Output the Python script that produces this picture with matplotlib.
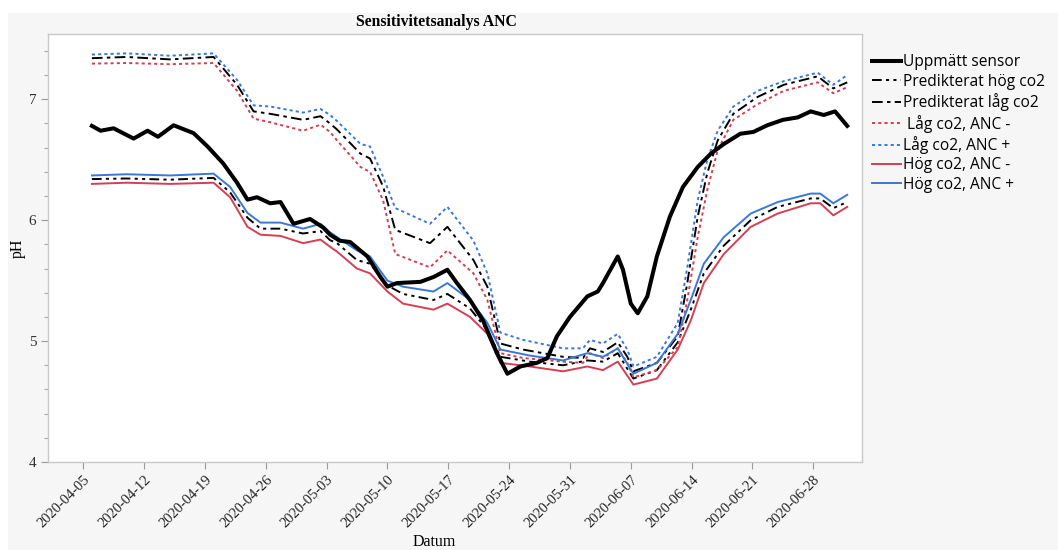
import pandas as pd
import matplotlib
matplotlib.use("Agg")
import matplotlib.pyplot as plt
from matplotlib.ticker import MultipleLocator
from matplotlib.patches import Rectangle

# day offsets are counted from 2020-04-05
start = pd.Timestamp("2020-04-05")

# measured pH (sensor)
sensor_day = [1.0, 2.0, 3.5, 5.8, 7.4, 8.6, 10.4, 12.7, 14.3, 16.1, 17.7, 18.9,
              20.0, 21.5, 22.7, 24.2, 26.1, 27.6, 28.4, 29.5, 30.7, 32.7, 34.2,
              35.0, 36.1, 38.8, 40.3, 41.9, 43.0, 44.5, 46.0, 47.6, 48.8, 50.3,
              52.2, 53.4, 54.5, 56.0, 58.0, 59.2, 59.8, 61.5, 62.1, 63.0, 63.8,
              64.9, 66.0, 67.5, 69.0, 70.7, 72.2, 73.7, 75.6, 77.1, 78.7, 80.5,
              82.2, 83.7, 85.2, 86.5, 87.9]
sensor_ph = [6.78, 6.74, 6.76, 6.675, 6.74, 6.69, 6.785, 6.72, 6.61, 6.47, 6.31, 6.17,
             6.19, 6.14, 6.15, 5.97, 6.01, 5.94, 5.88, 5.83, 5.82, 5.70, 5.53,
             5.45, 5.48, 5.49, 5.53, 5.59, 5.48, 5.34, 5.17, 4.90, 4.73, 4.79,
             4.82, 4.86, 5.04, 5.20, 5.37, 5.41, 5.48, 5.70, 5.59, 5.31, 5.23,
             5.37, 5.70, 6.03, 6.275, 6.44, 6.55, 6.63, 6.715, 6.73, 6.785, 6.83,
             6.85, 6.90, 6.87, 6.90, 6.78]

# low co2 scenario
lag_day = [1.0, 5.0, 10.0, 15.0, 17.7, 19.6, 21.5, 25.3, 27.3, 28.4, 29.2, 31.9,
           33.0, 34.5, 35.9, 39.9, 41.9, 44.9, 46.5, 48.0, 50.6, 55.2, 57.5,
           58.3, 59.8, 61.5, 62.6, 63.3, 66.0, 68.4, 69.5, 70.7, 71.8, 73.0,
           74.8, 77.6, 80.6, 84.5, 86.3, 87.9]
lag_anc_plus = [7.37, 7.38, 7.36, 7.38, 7.16, 6.95, 6.94, 6.89, 6.92, 6.87, 6.82, 6.63,
                6.61, 6.36, 6.10, 5.97, 6.11, 5.83, 5.56, 5.07, 5.01, 4.94, 4.94,
                5.01, 4.98, 5.06, 4.93, 4.79, 4.87, 5.15, 5.61, 6.165, 6.50, 6.74,
                6.94, 7.07, 7.15, 7.22, 7.12, 7.20]
lag_pred = [7.34, 7.35, 7.33, 7.35, 7.12, 6.90, 6.88, 6.83, 6.86, 6.80, 6.75, 6.55,
            6.51, 6.28, 5.92, 5.81, 5.945, 5.67, 5.45, 4.98, 4.93, 4.87, 4.86,
            4.94, 4.91, 4.99, 4.87, 4.75, 4.82, 5.04, 5.48, 6.03, 6.39, 6.66,
            6.88, 7.02, 7.12, 7.19, 7.09, 7.14]
lag_anc_minus = [7.295, 7.30, 7.29, 7.30, 7.07, 6.84, 6.81, 6.74, 6.79, 6.73, 6.66, 6.44,
                 6.40, 6.165, 5.72, 5.61, 5.75, 5.56, 5.34, 4.90, 4.86, 4.83, 4.82,
                 4.90, 4.86, 4.94, 4.82, 4.70, 4.76, 4.95, 5.34, 5.86, 6.25, 6.58,
                 6.83, 6.96, 7.07, 7.14, 7.05, 7.10]

# high co2 scenario
hog_day = [1.0, 5.0, 10.0, 15.0, 16.9, 18.9, 20.4, 22.7, 25.3, 27.3, 28.4, 29.2,
           31.5, 33.0, 35.0, 36.8, 40.3, 41.9, 44.5, 46.5, 48.0, 51.4, 55.2,
           58.0, 59.8, 61.5, 63.3, 66.0, 68.4, 69.9, 71.4, 73.7, 76.8, 79.9,
           83.7, 84.8, 86.3, 87.9]
hog_anc_plus = [6.37, 6.38, 6.37, 6.385, 6.275, 6.06, 5.98, 5.98, 5.93, 5.97, 5.90, 5.86,
                5.75, 5.70, 5.50, 5.45, 5.41, 5.48, 5.34, 5.15, 4.93, 4.88, 4.84,
                4.90, 4.87, 4.94, 4.73, 4.82, 5.06, 5.34, 5.64, 5.86, 6.055, 6.15,
                6.22, 6.22, 6.14, 6.21]
hog_pred = [6.34, 6.345, 6.335, 6.35, 6.23, 6.02, 5.93, 5.93, 5.89, 5.91, 5.835, 5.81,
            5.67, 5.64, 5.46, 5.39, 5.34, 5.39, 5.27, 5.09, 4.87, 4.83, 4.80,
            4.84, 4.83, 4.90, 4.69, 4.76, 4.99, 5.26, 5.56, 5.79, 6.00, 6.11,
            6.18, 6.18, 6.10, 6.15]
hog_anc_minus = [6.30, 6.31, 6.30, 6.31, 6.19, 5.945, 5.88, 5.87, 5.81, 5.84, 5.78, 5.74,
                 5.60, 5.56, 5.41, 5.31, 5.26, 5.31, 5.20, 5.06, 4.82, 4.79, 4.75,
                 4.79, 4.76, 4.83, 4.64, 4.69, 4.93, 5.17, 5.48, 5.72, 5.945, 6.055,
                 6.14, 6.14, 6.04, 6.11]


def to_dates(days):
    return start + pd.to_timedelta(days, unit="D")


RED = "#d43f52"
BLUE = "#3a78d8"
serif = "Liberation Serif"

fig = plt.figure(figsize=(10.58, 5.5), dpi=100)
fig.patch.set_facecolor("white")
fig.patches.append(Rectangle((8 / 1058, 0), 1, 537 / 550, transform=fig.transFigure,
                             facecolor="#f6f6f6", edgecolor="none", zorder=-10))

ax = fig.add_axes([48 / 1058, 88 / 550, 814 / 1058, 428 / 550])
ax.set_facecolor("white")

ax.plot(to_dates(sensor_day), sensor_ph, color="black", lw=2.9,
        label="Uppmätt sensor", zorder=5)
ax.plot(to_dates(hog_day), hog_pred, color="black", lw=1.4,
        dashes=(5, 2.2, 1.6, 2.2, 1.6, 2.2), label="Predikterat hög co2")
ax.plot(to_dates(lag_day), lag_pred, color="black", lw=1.4,
        dashes=(5.5, 2.2, 1.8, 2.2), label="Predikterat låg co2")
ax.plot(to_dates(lag_day), lag_anc_minus, color=RED, lw=1.4,
        dashes=(1.6, 1.6), label=" Låg co2, ANC -")
ax.plot(to_dates(lag_day), lag_anc_plus, color=BLUE, lw=1.4,
        dashes=(1.6, 1.6), label="Låg co2, ANC +")
ax.plot(to_dates(hog_day), hog_anc_minus, color=RED, lw=1.4,
        label="Hög co2, ANC -")
ax.plot(to_dates(hog_day), hog_anc_plus, color=BLUE, lw=1.4,
        label="Hög co2, ANC +")

# axes ranges and ticks
ax.set_xlim(to_dates([-4.05])[0], to_dates([89.6])[0])
ax.set_ylim(4, 7.54)
ax.yaxis.set_major_locator(MultipleLocator(1))
ax.yaxis.set_minor_locator(MultipleLocator(0.2))
week_ticks = pd.date_range("2020-04-05", "2020-06-28", freq="7D")
ax.set_xticks(week_ticks)
ax.set_xticklabels([d.strftime("%Y-%m-%d") for d in week_ticks],
                   rotation=45, ha="right", rotation_mode="anchor",
                   fontfamily=serif, fontsize=10.5, color="#222222")
for lbl in ax.get_yticklabels():
    lbl.set_fontfamily(serif)
ax.tick_params(axis="y", labelsize=11, colors="#999999", labelcolor="#333333",
               length=5, width=0.8)
ax.tick_params(axis="y", which="minor", length=3, colors="#aaaaaa", width=0.8)
ax.tick_params(axis="x", colors="#999999", labelcolor="#222222", length=5,
               width=0.8, pad=3)
for s in ax.spines.values():
    s.set_color("#c8c8c8")
    s.set_linewidth(1.0)

fig.text(436 / 1058, 1 - 22 / 550, "Sensitivitetsanalys ANC", ha="center",
         va="center", fontfamily=serif, fontweight="bold", fontsize=11.3)
fig.text(434 / 1058, 1 - 542 / 550, "Datum", ha="center", va="center",
         fontfamily=serif, fontsize=11.5)
fig.text(18 / 1058, 1 - 248 / 550, "pH", ha="center", va="center",
         rotation=90, fontfamily=serif, fontsize=11.5)

ax.legend(loc="upper left", bbox_to_anchor=(0.995, 0.985), frameon=False,
          prop={"family": "Open Sans", "size": 11.2}, handlelength=1.9,
          handletextpad=0.12, labelspacing=0.22, borderaxespad=0.5)

fig.savefig("out.png", dpi=100)
